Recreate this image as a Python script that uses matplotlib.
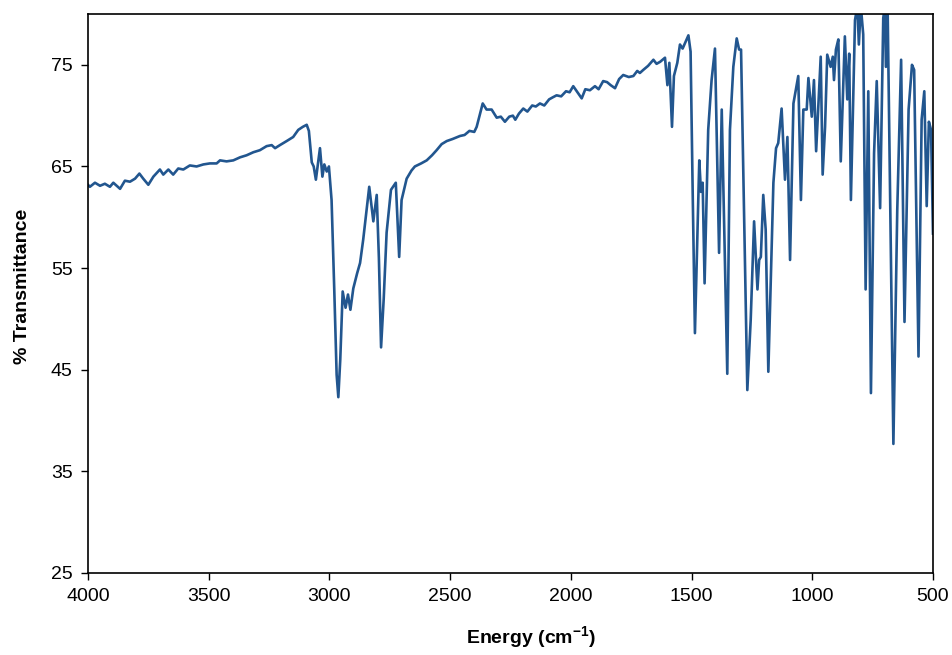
import numpy as np
import matplotlib.pyplot as plt

plt.rcParams['font.family'] = 'Liberation Sans'
plt.rcParams['mathtext.fontset'] = 'custom'
plt.rcParams['mathtext.rm'] = 'Liberation Sans'
plt.rcParams['mathtext.bf'] = 'Liberation Sans:bold'

# IR spectrum: wavenumber (cm-1) and % transmittance
wavenumber = [
    4000, 3992, 3971, 3950, 3930, 3909, 3895, 3867, 3847, 3826, 3805, 3787, 3771, 3750,
    3729, 3702, 3688, 3667, 3647, 3626, 3605, 3578, 3550, 3522, 3495, 3467, 3453, 3426,
    3398, 3370, 3343, 3315, 3288, 3260, 3239, 3225, 3205, 3177, 3150, 3129, 3110, 3094,
    3085, 3073, 3065, 3056, 3039, 3029, 3021, 3011, 3002, 2991, 2980, 2970, 2963, 2955,
    2945, 2933, 2923, 2913, 2901, 2885, 2873, 2860, 2835, 2818, 2804, 2795, 2786, 2775,
    2763, 2745, 2725, 2711, 2701, 2680, 2660, 2646, 2620, 2597, 2575, 2556, 2535, 2514,
    2490, 2459, 2440, 2420, 2400, 2390, 2365, 2349, 2328, 2307, 2290, 2273, 2255, 2240,
    2230, 2215, 2197, 2180, 2160, 2145, 2128, 2110, 2090, 2075, 2059, 2040, 2020, 2005,
    1990, 1955, 1940, 1921, 1900, 1885, 1866, 1850, 1835, 1817, 1800, 1783, 1760, 1741,
    1725, 1714, 1700, 1680, 1658, 1645, 1630, 1610, 1600, 1592, 1581, 1573, 1559,
    1548, 1537, 1524, 1513, 1504, 1495, 1486, 1468, 1461, 1454, 1446, 1431, 1417, 1403,
    1386, 1375, 1352, 1341, 1327, 1313, 1303, 1295, 1269, 1255, 1241, 1227, 1220, 1213,
    1203, 1193, 1182, 1161, 1150, 1141, 1127, 1113, 1103, 1092, 1078, 1058, 1047, 1037,
    1023, 1016, 1002, 993, 984, 965, 957, 947, 938, 924, 915, 910, 902, 892,
    882, 865, 855, 847, 840, 823, 813, 807, 799, 789, 779, 768, 757, 744,
    733, 719, 706, 699, 695, 688, 664, 648, 632, 618, 601, 587, 578, 560,
    547, 536, 526, 517, 508, 500,
]
transmittance = [
    63.2, 63.0, 63.4, 63.1, 63.3, 63.0, 63.4, 62.8, 63.6, 63.5, 63.8, 64.3, 63.8, 63.2,
    64.0, 64.7, 64.2, 64.7, 64.2, 64.8, 64.7, 65.1, 65.0, 65.2, 65.3, 65.3, 65.6, 65.5,
    65.6, 65.9, 66.1, 66.4, 66.6, 67.0, 67.1, 66.8, 67.1, 67.5, 67.9, 68.6, 68.9, 69.1,
    68.5, 65.4, 65.0, 63.7, 66.8, 64.0, 65.2, 64.5, 65.0, 61.7, 53.0, 44.5, 42.3, 46.0,
    52.7, 51.1, 52.4, 50.9, 53.0, 54.5, 55.5, 57.8, 63.0, 59.6, 62.2, 56.0, 47.2, 52.0,
    58.5, 62.7, 63.4, 56.1, 61.7, 63.8, 64.6, 65.0, 65.3, 65.6, 66.1, 66.6, 67.2, 67.5,
    67.7, 68.0, 68.1, 68.5, 68.4, 68.9, 71.2, 70.6, 70.6, 69.8, 69.9, 69.4, 69.9, 70.0,
    69.6, 70.2, 70.7, 70.4, 71.0, 70.9, 71.2, 71.0, 71.6, 71.8, 72.0, 71.9, 72.4, 72.3,
    72.9, 71.7, 72.6, 72.5, 72.9, 72.6, 73.4, 73.3, 73.0, 72.7, 73.6, 74.0, 73.8, 73.9,
    74.4, 74.2, 74.5, 74.9, 75.5, 75.1, 75.3, 75.7, 73.0, 75.2, 68.9, 73.9, 75.2,
    77.0, 76.6, 77.3, 77.9, 76.3, 62.0, 48.6, 65.6, 62.5, 63.4, 53.5, 68.6, 73.5, 76.6,
    56.5, 70.6, 44.6, 68.6, 74.8, 77.6, 76.5, 76.5, 43.0, 49.9, 59.6, 52.9, 55.8, 56.1,
    62.2, 58.8, 44.8, 63.4, 66.8, 67.3, 70.7, 63.7, 67.9, 55.8, 71.2, 73.9, 61.7, 70.6,
    70.6, 73.7, 69.9, 73.5, 66.5, 75.8, 64.2, 68.9, 76.0, 74.8, 75.8, 73.5, 76.5, 77.5,
    65.5, 77.8, 71.6, 76.1, 61.7, 79.4, 80.8, 77.0, 80.8, 78.0, 52.9, 72.4, 42.7, 66.3,
    73.4, 60.9, 79.6, 80.8, 74.8, 80.8, 37.7, 60.7, 75.5, 49.7, 70.6, 75.0, 74.5, 46.3,
    69.6, 72.4, 61.1, 69.4, 68.6, 58.4,
]

y_ticks = [25, 35, 45, 55, 65, 75]
x_ticks = [4000, 3500, 3000, 2500, 2000, 1500, 1000, 500]

fig = plt.figure(figsize=(9.53, 6.55), dpi=100)
ax = fig.add_axes([0.0923, 0.1252, 0.8867, 0.8534])

ax.plot(wavenumber, transmittance, color='#22568f', linewidth=1.9,
        solid_joinstyle='round')

ax.set_xlim(4000, 500)
ax.set_ylim(25, 80)
ax.set_xticks(x_ticks)
ax.set_yticks(y_ticks)
ax.tick_params(direction='out', length=5, width=1, labelsize=14, pad=6)

for s in ax.spines.values():
    s.set_linewidth(1.2)

ax.set_xlabel(r'Energy (cm$^{\mathbf{-1}}$)', fontsize=14, fontweight='bold')
ax.set_ylabel('% Transmittance', fontsize=14, fontweight='bold')
ax.xaxis.label.set_va('center')
ax.yaxis.label.set_va('center')
ax.xaxis.set_label_coords(0.524, -0.116)
ax.yaxis.set_label_coords(-0.078, 0.513)

fig.savefig('out.png', dpi=100)
